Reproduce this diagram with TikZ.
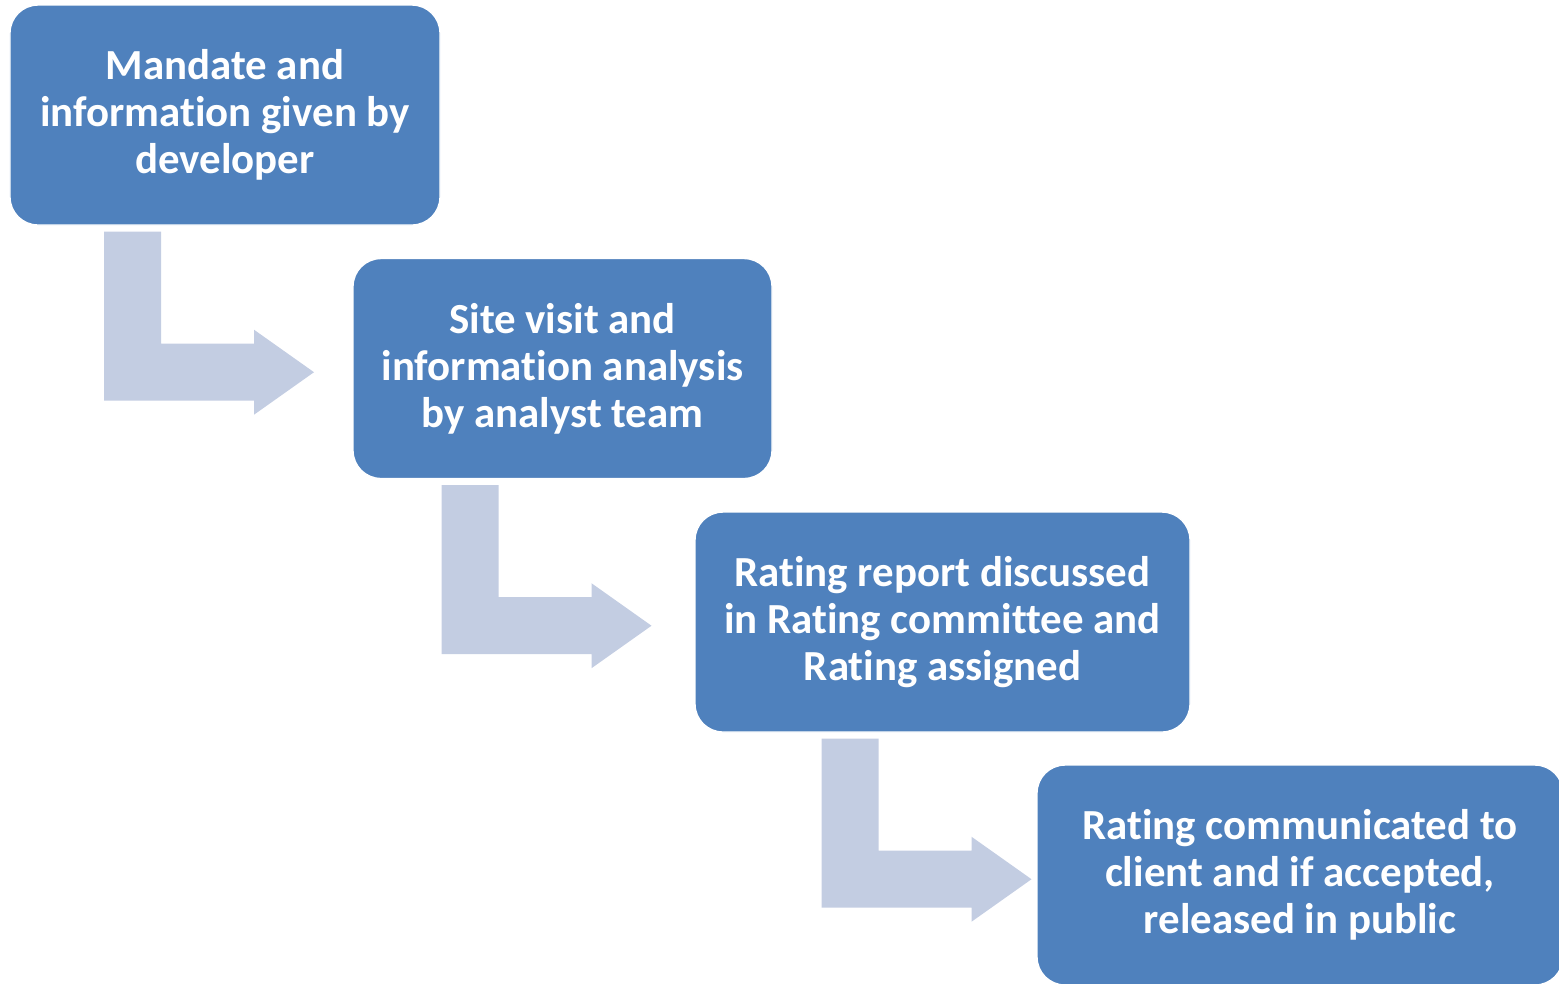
\documentclass[tikz,border=0pt]{standalone}
\usepackage{fontspec}
\setmainfont{Carlito}[Ligatures=NoCommon]
\usetikzlibrary{positioning,calc}
\definecolor{stepblue}{HTML}{4F81BD}
\definecolor{arrowgray}{HTML}{C3CDE2}

\begin{document}
\begin{tikzpicture}[
    stepbox/.style={fill=stepblue, draw=white, line width=0.4pt, rounded corners=0.28cm,
      align=center, text=white, font=\bfseries\fontsize{12.2}{13.4}\selectfont,
      minimum height=2.2cm, inner sep=0pt},
  ]
  \useasboundingbox (0,0) rectangle (15.59,-9.83);

  %% Process steps
  \node[stepbox, minimum width=4.30cm] (mandate) at (2.25,-1.15)
    {Mandate and\\information given by\\developer};
  \node[stepbox, minimum width=4.19cm] (visit) at (5.625,-3.685)
    {Site visit and\\information analysis\\by analyst team};
  \node[stepbox, minimum width=4.95cm] (committee) at (9.425,-6.22)
    {Rating report discussed\\in Rating committee and\\Rating assigned};
  \node[stepbox, minimum width=5.26cm] (release) at (13.00,-8.75)
    {Rating communicated to\\client and if accepted,\\released in public};

  %% Bent arrows, hung below each box
  \foreach \from/\to in {mandate/visit, visit/committee, committee/release}{
    \fill[arrowgray, shift={(\from.south)}]
      (-1.21,-0.06) -- (-0.64,-0.06) -- (-0.64,-1.18) -- (0.29,-1.18)
      -- (0.29,-1.04) -- (0.89,-1.465) -- (0.29,-1.89) -- (0.29,-1.75)
      -- (-1.21,-1.75) -- cycle;
  }

\end{tikzpicture}
\end{document}
